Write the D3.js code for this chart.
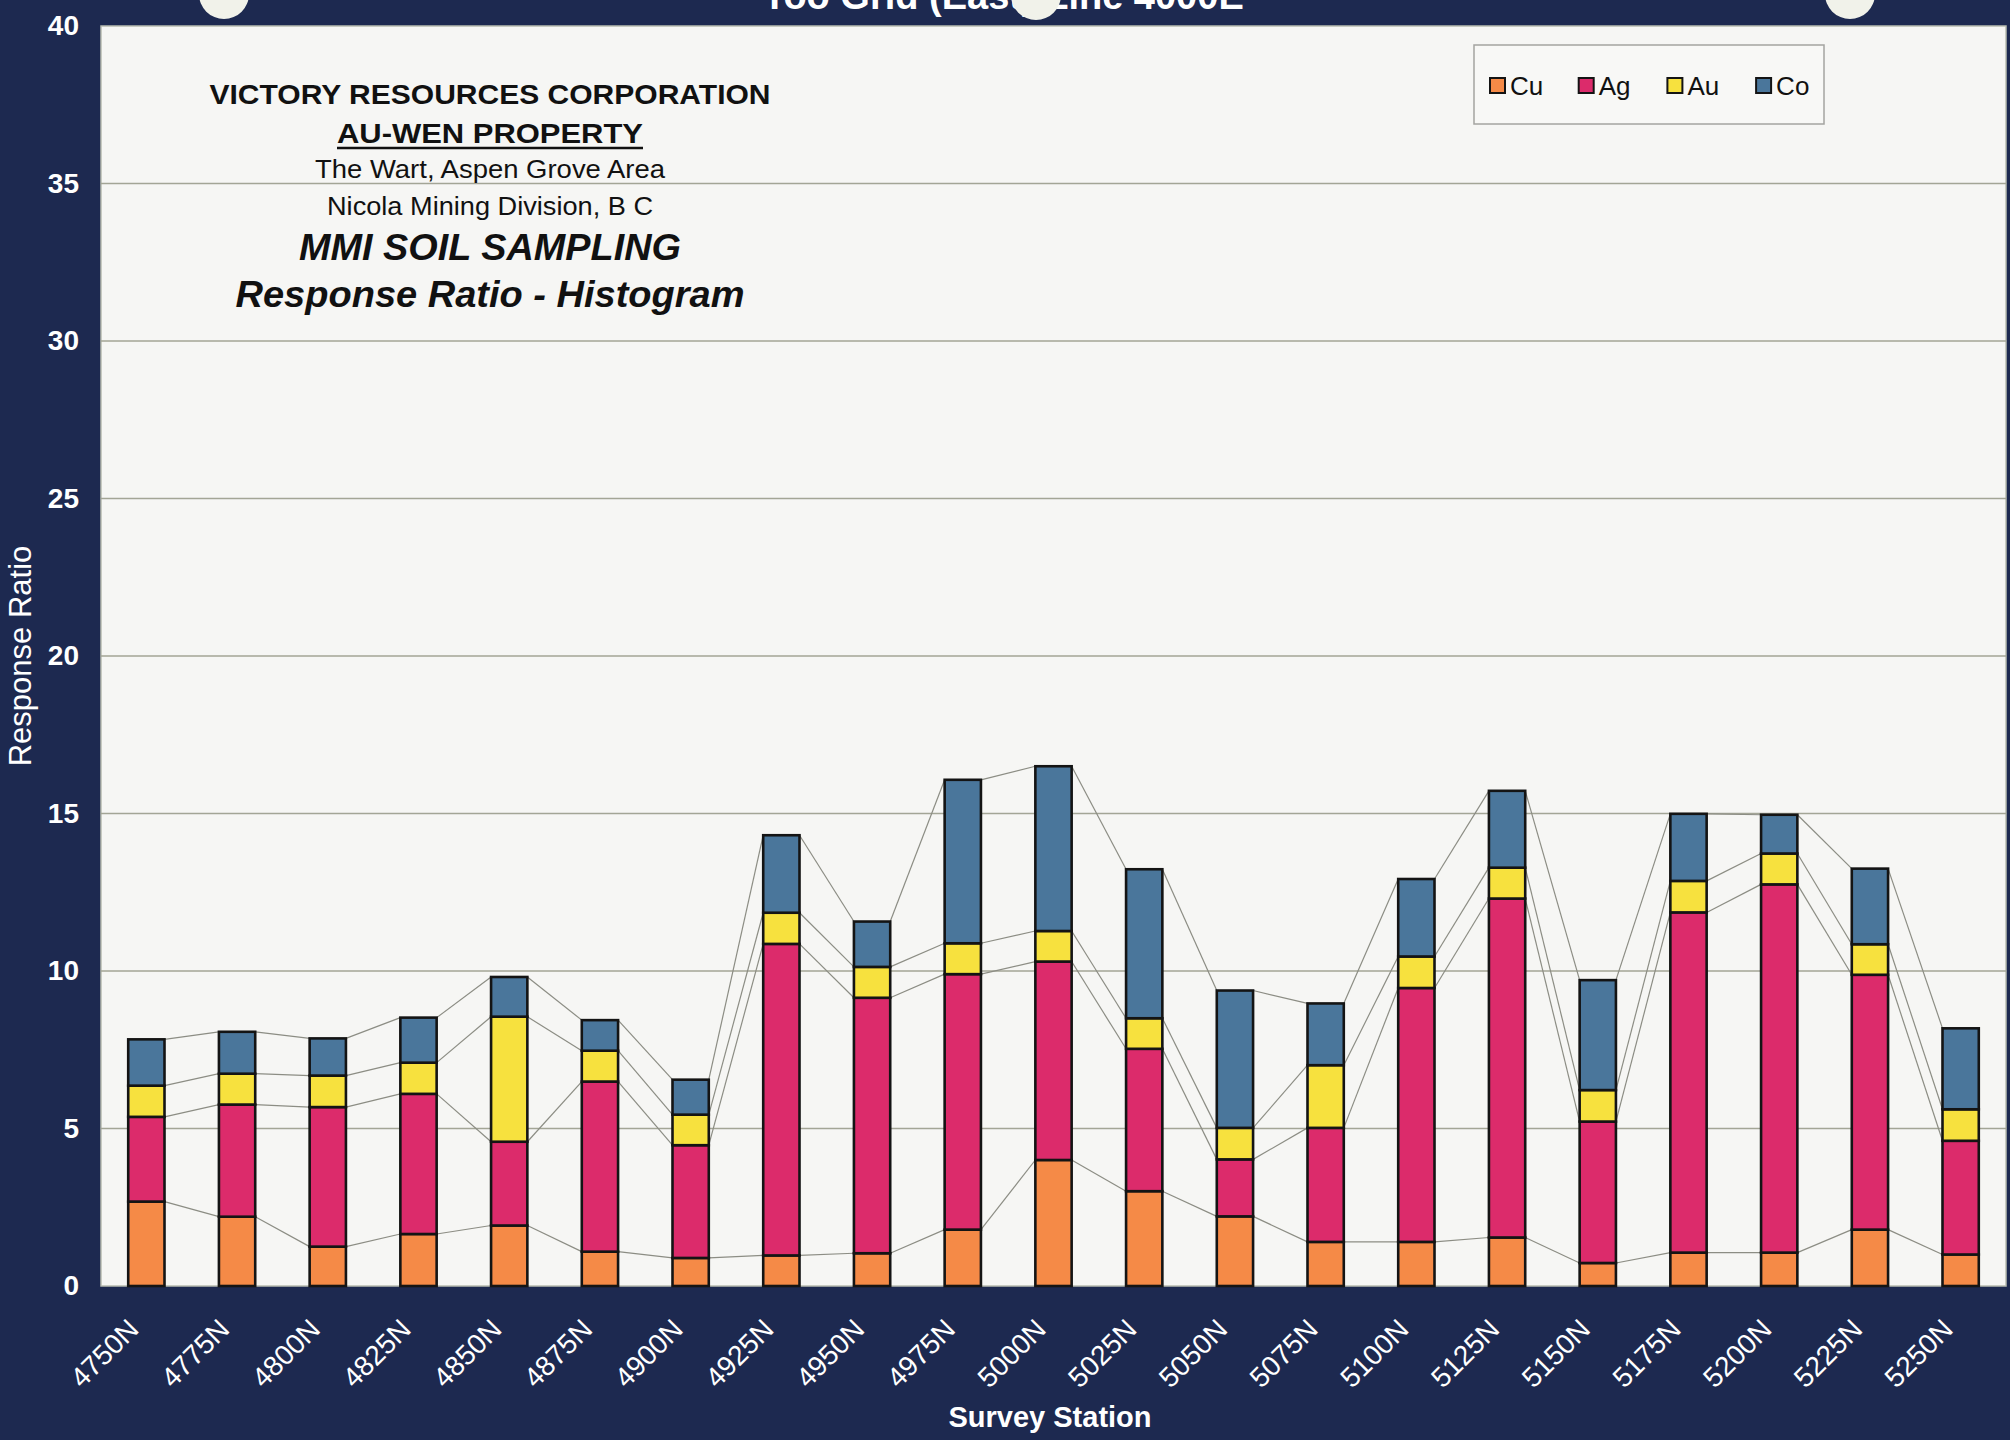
<!DOCTYPE html>
<html>
<head>
<meta charset="utf-8">
<script src="https://cdn.jsdelivr.net/npm/d3@7"></script>
<style>
  html, body { margin: 0; padding: 0; background: #1d2950; }
  svg { display: block; font-family: "Liberation Sans", Arial, Helvetica, sans-serif; }
</style>
</head>
<body>
<svg id="chart" width="2010" height="1440"></svg>
<script>
// Survey stations along the line
const stations = ["4750N","4775N","4800N","4825N","4850N","4875N","4900N","4925N","4950N","4975N",
  "5000N","5025N","5050N","5075N","5100N","5125N","5150N","5175N","5200N","5225N","5250N"];

// Response ratios per element (stacked bottom to top: Cu, Ag, Au, Co)
const cu = [2.68, 2.20, 1.25, 1.65, 1.92, 1.09, 0.89, 0.97, 1.04, 1.79, 4.00, 3.01, 2.21, 1.40, 1.40, 1.54, 0.73, 1.06, 1.06, 1.79, 1.00];
const ag = [2.69, 3.56, 4.43, 4.45, 2.66, 5.40, 3.58, 9.89, 8.11, 8.11, 6.30, 4.52, 1.81, 3.62, 8.06, 10.76, 4.49, 10.80, 11.69, 8.09, 3.61];
const au = [0.99, 0.98, 1.00, 0.99, 3.97, 0.98, 0.97, 0.99, 0.98, 0.98, 0.97, 0.97, 1.00, 1.99, 1.00, 0.98, 1.00, 1.00, 0.98, 0.97, 1.00];
const co = [1.47, 1.33, 1.18, 1.43, 1.26, 0.97, 1.11, 2.46, 1.44, 5.19, 5.23, 4.73, 4.36, 1.96, 2.46, 2.44, 3.49, 2.13, 1.23, 2.40, 2.57];

const elements = ["Cu", "Ag", "Au", "Co"];
const yTicks = [0, 5, 10, 15, 20, 25, 30, 35, 40];

const titleLines = [
  { text: "VICTORY RESOURCES CORPORATION", weight: "bold", style: "normal", size: 28, y: 104, len: 561 },
  { text: "AU-WEN PROPERTY", weight: "bold", style: "normal", size: 28, y: 143, len: 306, underline: true },
  { text: "The Wart, Aspen Grove Area", weight: "normal", style: "normal", size: 26, y: 178, len: 350 },
  { text: "Nicola Mining Division, B C", weight: "normal", style: "normal", size: 26, y: 215, len: 326 },
  { text: "MMI SOIL SAMPLING", weight: "bold", style: "italic", size: 37, y: 260, len: 382 },
  { text: "Response Ratio - Histogram", weight: "bold", style: "italic", size: 37, y: 307, len: 509 }
];

const table = stations.map((s, i) => ({ station: s, Cu: cu[i], Ag: ag[i], Au: au[i], Co: co[i] }));

const colors = { Cu: "#f58a47", Ag: "#dc2b6b", Au: "#f7e13e", Co: "#4a769b" };
const navy = "#1d2950";

const svg = d3.select("#chart");
const W = 2010, H = 1440;
const plot = { left: 101, right: 2006, top: 26, bottom: 1286 };

svg.append("rect").attr("width", W).attr("height", H).attr("fill", navy);

// Top heading, trimmed by the page edge
svg.append("text")
  .attr("x", 763).attr("y", 9)
  .attr("fill", "#ffffff").attr("font-size", 38).attr("font-weight", "bold")
  .text("Too Grid (East) Line 4000E");

// Plot background
svg.append("rect")
  .attr("x", plot.left).attr("y", plot.top)
  .attr("width", plot.right - plot.left).attr("height", plot.bottom - plot.top)
  .attr("fill", "#f6f6f4").attr("stroke", "#b8bcb0").attr("stroke-width", 1.5);

const x = d3.scaleBand().domain(stations).range([plot.left, plot.right])
  .paddingInner(0.6).paddingOuter(0.3);
const y = d3.scaleLinear().domain([0, 40]).range([plot.bottom, plot.top]);

// Horizontal gridlines
svg.append("g").selectAll("line")
  .data(yTicks.filter(t => t > 0 && t < 40))
  .join("line")
  .attr("x1", plot.left).attr("x2", plot.right)
  .attr("y1", d => y(d)).attr("y2", d => y(d))
  .attr("stroke", "#a3a596").attr("stroke-width", 1.6);

// Y axis labels
const yAxis = d3.axisLeft(y).tickValues(yTicks).tickSize(0).tickPadding(0);
const yg = svg.append("g").attr("transform", `translate(79,0)`).call(yAxis);
yg.select(".domain").remove();
yg.selectAll("text")
  .attr("fill", "#ffffff").attr("font-size", 28).attr("font-weight", "bold")
  .attr("font-family", "Liberation Sans, Arial, sans-serif");

svg.append("text")
  .attr("transform", "translate(31,656) rotate(-90)")
  .attr("text-anchor", "middle")
  .attr("fill", "#ffffff").attr("font-size", 31)
  .text("Response Ratio");

// X axis labels
const xAxis = d3.axisBottom(x).tickSize(0).tickPadding(0);
const xg = svg.append("g").attr("transform", `translate(0,${plot.bottom})`).call(xAxis);
xg.select(".domain").remove();
xg.selectAll("text")
  .attr("fill", "#ffffff").attr("font-size", 28)
  .attr("font-family", "Liberation Sans, Arial, sans-serif")
  .attr("text-anchor", "end")
  .attr("dy", 0).attr("y", 0)
  .attr("transform", "translate(-6,45) rotate(-45)");

svg.append("text")
  .attr("x", 1050).attr("y", 1427)
  .attr("text-anchor", "middle")
  .attr("fill", "#ffffff").attr("font-size", 29).attr("font-weight", "bold")
  .text("Survey Station");

// Stacked series
const series = d3.stack().keys(elements)(table);
const bw = x.bandwidth();

// Series lines joining segment tops of neighbouring bars
const lineG = svg.append("g");
series.forEach(s => {
  for (let i = 0; i < s.length - 1; i++) {
    lineG.append("line")
      .attr("x1", x(stations[i]) + bw).attr("y1", y(s[i][1]))
      .attr("x2", x(stations[i + 1])).attr("y2", y(s[i + 1][1]))
      .attr("stroke", "#8c8d84").attr("stroke-width", 1.2);
  }
});

svg.append("g").selectAll("g")
  .data(series)
  .join("g")
  .attr("fill", d => colors[d.key])
  .selectAll("rect")
  .data(d => d)
  .join("rect")
  .attr("x", d => x(d.data.station))
  .attr("y", d => y(d[1]))
  .attr("width", bw)
  .attr("height", d => y(d[0]) - y(d[1]))
  .attr("stroke", "#141414").attr("stroke-width", 2.6);

// Title block
const tg = svg.append("g");
titleLines.forEach(t => {
  tg.append("text")
    .attr("x", 490).attr("y", t.y)
    .attr("text-anchor", "middle")
    .attr("fill", "#111111")
    .attr("font-size", t.size).attr("font-weight", t.weight).attr("font-style", t.style)
    .attr("textLength", t.len).attr("lengthAdjust", "spacingAndGlyphs")
    .text(t.text);
  if (t.underline) {
    tg.append("line")
      .attr("x1", 490 - t.len / 2).attr("x2", 490 + t.len / 2)
      .attr("y1", t.y + 5).attr("y2", t.y + 5)
      .attr("stroke", "#111111").attr("stroke-width", 2.4);
  }
});

// Legend
const lg = svg.append("g").attr("transform", "translate(1474,45)");
lg.append("rect").attr("width", 350).attr("height", 79)
  .attr("fill", "#f8f8f6").attr("stroke", "#a4a4a0").attr("stroke-width", 1.5);
const li = lg.selectAll("g.item").data(elements).join("g")
  .attr("class", "item")
  .attr("transform", (d, i) => `translate(${16 + i * 88.7},41)`);
li.append("rect").attr("x", 0).attr("y", -8).attr("width", 15).attr("height", 15)
  .attr("fill", d => colors[d]).attr("stroke", "#141414").attr("stroke-width", 2);
li.append("text").attr("x", 20).attr("y", 9)
  .attr("fill", "#111111").attr("font-size", 26)
  .text(d => d);

// Binder punch holes along the top edge
svg.append("g").selectAll("circle")
  .data([[224, -6], [1036, -5], [1850, -6]])
  .join("circle")
  .attr("cx", d => d[0]).attr("cy", d => d[1]).attr("r", 25)
  .attr("fill", "#f1f2ea");
</script>
</body>
</html>
